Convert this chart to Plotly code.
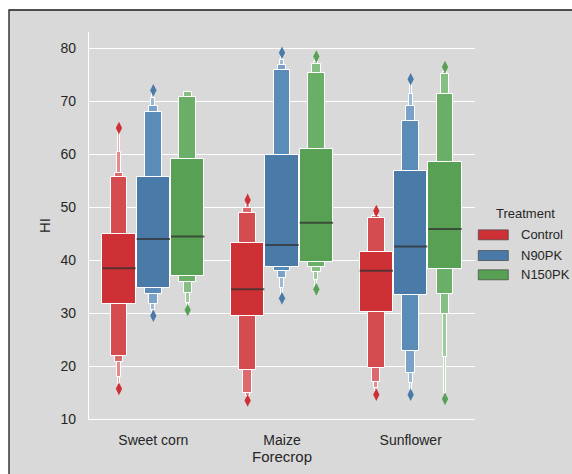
import plotly.graph_objects as go

forecrops = ["Sweet corn", "Maize", "Sunflower"]
treatments = ["Control", "N90PK", "N150PK"]

# letter-value box bounds per forecrop: level 1 (inner) .. level 5 (outermost)
control_hi = [[44.9, 55.8, 56.4, 60.5, 64.0], [43.3, 49.0, 49.8, 50.5, 51.0], [41.5, 47.9, 48.3, 48.9, 49.1]]
control_lo = [[31.7, 21.9, 20.7, 18.0, 16.6], [29.5, 19.3, 14.9, 14.3, 13.9], [30.3, 19.6, 16.9, 15.8, 15.2]]
control_median = [38.5, 34.5, 38.0]
control_out_hi = [65.0, 51.4, 49.3]
control_out_lo = [15.7, 13.5, 14.6]

n90pk_hi = [[55.8, 68.0, 69.1, 70.6, 71.6], [59.8, 76.0, 76.9, 77.8, 78.6], [56.8, 66.3, 69.1, 71.5, 73.4]]
n90pk_lo = [[34.7, 33.6, 31.8, 30.6, 30.0], [38.8, 37.9, 36.6, 34.7, 33.5], [33.5, 22.9, 18.7, 16.8, 15.4]]
n90pk_median = [44.0, 42.9, 42.6]
n90pk_out_hi = [72.1, 79.2, 74.2]
n90pk_out_lo = [29.5, 32.8, 14.6]

n150pk_hi = [[59.2, 70.9, 71.8, 71.8, 71.8], [61.1, 75.3, 77.0, 77.5, 78.0], [58.6, 71.5, 75.1, 75.6, 76.0]]
n150pk_lo = [[37.0, 35.8, 33.8, 31.9, 31.0], [39.7, 38.8, 37.7, 36.3, 35.0], [38.3, 33.6, 29.9, 21.8, 15.0]]
n150pk_median = [44.5, 47.1, 45.9]
n150pk_out_hi = [None, 78.5, 76.5]
n150pk_out_lo = [30.6, 34.5, 13.8]

# styles
level_colors = [
    ["#cd3035", "#d44c50", "#dc6a6d", "#e48a8c", "#eba8aa"],
    ["#4a7aa8", "#5b8bb7", "#7aa2c8", "#99b9d6", "#b5cce2"],
    ["#58a054", "#6aae67", "#86bf84", "#9dcc9b", "#b8dbb6"],
]
offsets = [-0.267, 0.0, 0.267]
base_width = 0.26
BG = "#d9d9d9"

his = [control_hi, n90pk_hi, n150pk_hi]
los = [control_lo, n90pk_lo, n150pk_lo]
meds = [control_median, n90pk_median, n150pk_median]
outs_hi = [control_out_hi, n90pk_out_hi, n150pk_out_hi]
outs_lo = [control_out_lo, n90pk_out_lo, n150pk_out_lo]

fig = go.Figure()
n_levels = 5
for j, t in enumerate(treatments):
    xs = [i + offsets[j] for i in range(len(forecrops))]
    for k in reversed(range(n_levels)):
        w = base_width * (0.5 ** k)
        lo = [los[j][i][k] for i in range(len(forecrops))]
        hi = [his[j][i][k] for i in range(len(forecrops))]
        fig.add_trace(go.Bar(
            x=xs, y=[h - l for h, l in zip(hi, lo)], base=lo, width=w,
            marker=dict(color=level_colors[j][k], line=dict(color="white", width=1)),
            showlegend=False, name=t, hoverinfo="skip"))
    mx, my = [], []
    for i in range(len(forecrops)):
        mx += [xs[i] - base_width / 2, xs[i] + base_width / 2, None]
        my += [meds[j][i], meds[j][i], None]
    fig.add_trace(go.Scatter(x=mx, y=my, mode="lines",
                             line=dict(color="rgba(50,50,50,0.75)", width=2),
                             showlegend=False, hoverinfo="skip"))
    ox, oy = [], []
    for i in range(len(forecrops)):
        for v in (outs_hi[j][i], outs_lo[j][i]):
            if v is not None:
                ox.append(xs[i]); oy.append(v)
    fig.add_trace(go.Scatter(x=ox, y=oy, mode="markers",
                             marker=dict(symbol="diamond-tall", size=9, color=level_colors[j][0],
                                         line=dict(width=0)),
                             showlegend=False, hoverinfo="skip"))

W, H = 572, 474
# plot area in page pixels
P_L, P_R, P_T, P_B = 89, 475, 32, 419.3
L, T, R, B = P_L, P_T, W - P_R, H - P_B
pw, ph = P_R - P_L, P_B - P_T

def px(xp):
    return (xp - P_L) / pw

def py(yp):
    return (P_B - yp) / ph

shapes = [dict(type="rect", xref="paper", yref="paper", x0=px(9), x1=px(600), y0=py(500), y1=py(10),
               fillcolor=BG, line=dict(color="#1a1a1a", width=1.3), layer="below")]
annotations = [dict(text="Treatment", xref="paper", yref="paper", x=px(525.7), y=py(214),
                    xanchor="center", yanchor="middle", showarrow=False,
                    font=dict(size=13, color="#262626"))]
rows = [235, 255.7, 275]
for j, t in enumerate(treatments):
    shapes.append(dict(type="rect", xref="paper", yref="paper", x0=px(478.3), x1=px(508.3),
                       y0=py(rows[j] + 5), y1=py(rows[j] - 5), fillcolor=level_colors[j][0],
                       line=dict(color="rgba(70,70,70,0.7)", width=1), layer="above"))
    annotations.append(dict(text=t, xref="paper", yref="paper", x=px(519), y=py(rows[j]),
                            xanchor="left", yanchor="middle", showarrow=False,
                            font=dict(size=13, color="#262626")))

fig.update_layout(
    width=W, height=H, margin=dict(l=L, r=R, t=T, b=B, pad=0),
    paper_bgcolor="white", plot_bgcolor=BG,
    barmode="overlay", bargap=0,
    font=dict(family="Liberation Sans, Arial, sans-serif", color="#262626", size=14),
    shapes=shapes, annotations=annotations, showlegend=False,
    xaxis=dict(range=[-0.5, 2.5], tickvals=[0, 1, 2], ticktext=forecrops, showgrid=False,
               zeroline=False, showline=True, linecolor="white", linewidth=1.3,
               ticks="outside", ticklen=8, tickcolor="rgba(0,0,0,0)",
               tickfont=dict(size=14, color="#262626"),
               title=dict(text="Forecrop", font=dict(size=15, color="#262626"), standoff=2)),
    yaxis=dict(range=[10, 83.13], tickvals=[10, 20, 30, 40, 50, 60, 70, 80], showgrid=True,
               gridcolor="white", gridwidth=1.3, zeroline=False, showline=True, linecolor="white",
               linewidth=1.3, ticks="outside", ticklen=9, tickcolor="rgba(0,0,0,0)",
               tickfont=dict(size=14, color="#262626"),
               title=dict(text="HI", font=dict(size=15, color="#262626"), standoff=6)),
)

fig.write_html("out.html", config={"displayModeBar": False},
               post_script="document.body.style.margin='0px';")
